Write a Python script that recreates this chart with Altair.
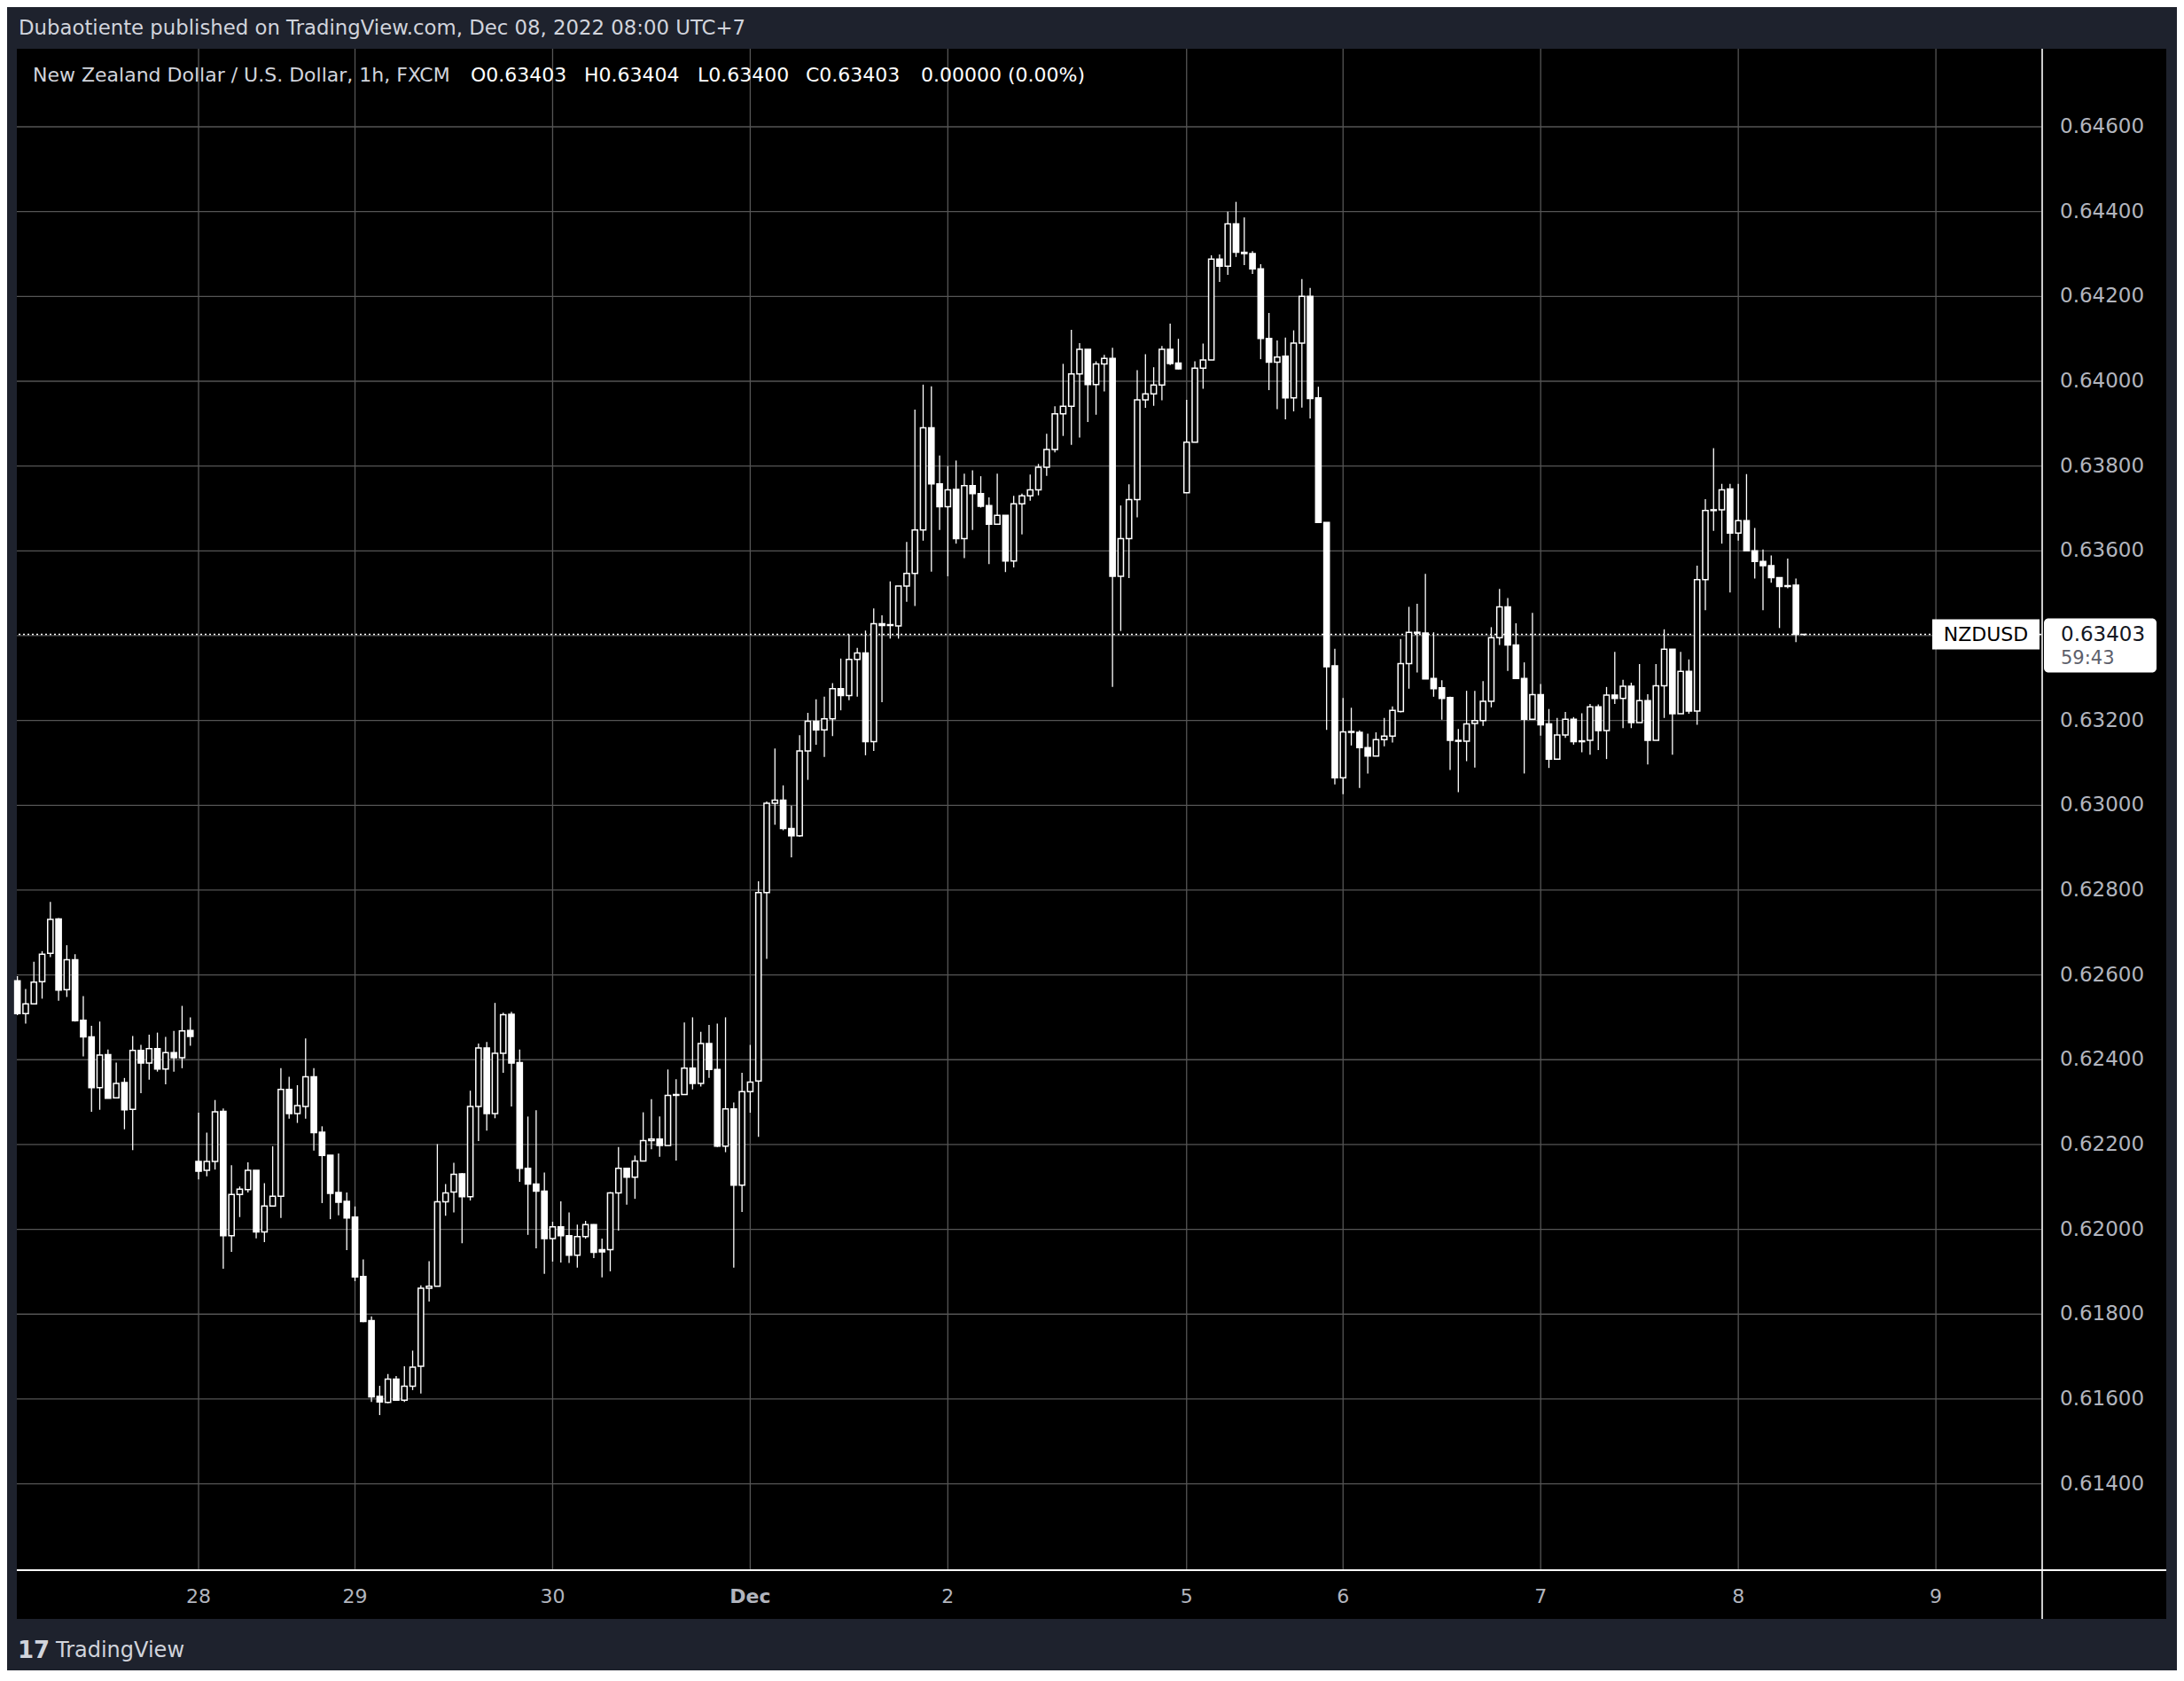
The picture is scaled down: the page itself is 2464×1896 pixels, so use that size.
import altair as alt
import pandas as pd

# ---- hourly NZDUSD candles (FXCM, 1h) ----
opens = [0.62586,0.62509,0.62532,0.62584,0.62651,0.62732,0.62565,0.62636,0.62493,0.62454,
         0.62334,0.62412,0.62310,0.62346,0.62283,0.62422,0.62392,0.62426,0.62378,0.62417,
         0.62405,0.62469,0.62160,0.62139,0.62160,0.62278,0.61985,0.62082,0.62094,0.62139,
         0.61994,0.62055,0.62078,0.62330,0.62273,0.62290,0.62360,0.62229,0.62175,0.62087,
         0.62066,0.62029,0.61889,0.61785,0.61606,0.61592,0.61647,0.61597,0.61630,0.61677,
         0.61861,0.61866,0.62065,0.62088,0.62131,0.62077,0.62290,0.62428,0.62273,0.62415,
         0.62507,0.62393,0.62144,0.62107,0.62090,0.61978,0.62006,0.61985,0.61939,0.61983,
         0.62011,0.61952,0.61952,0.62086,0.62144,0.62123,0.62161,0.62209,0.62213,0.62198,
         0.62316,0.62318,0.62380,0.62344,0.62438,0.62377,0.62196,0.62284,0.62104,0.62325,
         0.62350,0.62794,0.63005,0.63012,0.62945,0.62928,0.63128,0.63198,0.63178,0.63204,
         0.63275,0.63259,0.63344,0.63359,0.63150,0.63428,0.63424,0.63423,0.63517,0.63547,
         0.63649,0.63890,0.63758,0.63704,0.63745,0.63629,0.63754,0.63735,0.63707,0.63663,
         0.63684,0.63576,0.63711,0.63730,0.63744,0.63797,0.63839,0.63923,0.63941,0.64017,
         0.64075,0.63992,0.64041,0.64054,0.63540,0.63629,0.63721,0.63956,0.63970,0.63991,
         0.64075,0.64043,0.63737,0.63856,0.64031,0.64050,0.64288,0.64271,0.64371,0.64304,
         0.64301,0.64265,0.64101,0.64045,0.64059,0.63961,0.64090,0.64200,0.63961,0.63667,
         0.63329,0.63065,0.63174,0.63172,0.63136,0.63116,0.63155,0.63163,0.63221,0.63334,
         0.63408,0.63406,0.63299,0.63277,0.63254,0.63153,0.63151,0.63193,0.63200,0.63245,
         0.63395,0.63468,0.63378,0.63299,0.63203,0.63261,0.63192,0.63109,0.63166,0.63203,
         0.63150,0.63153,0.63232,0.63176,0.63260,0.63252,0.63281,0.63195,0.63247,0.63153,
         0.63282,0.63368,0.63216,0.63316,0.63222,0.63532,0.63695,0.63697,0.63746,0.63642,
         0.63671,0.63600,0.63575,0.63565,0.63537,0.63516,0.63519,0.63403]
highs = [0.62597,0.62567,0.62631,0.62656,0.62772,0.62734,0.62670,0.62649,0.62550,0.62480,
         0.62490,0.62424,0.62393,0.62357,0.62456,0.62435,0.62459,0.62464,0.62454,0.62468,
         0.62527,0.62500,0.62275,0.62228,0.62305,0.62285,0.62151,0.62101,0.62158,0.62139,
         0.62109,0.62196,0.62380,0.62360,0.62340,0.62450,0.62380,0.62243,0.62175,0.62179,
         0.62087,0.62054,0.61929,0.61795,0.61631,0.61659,0.61654,0.61677,0.61714,0.61868,
         0.61925,0.62201,0.62107,0.62157,0.62133,0.62327,0.62438,0.62442,0.62534,0.62511,
         0.62513,0.62424,0.62266,0.62281,0.62134,0.62018,0.62066,0.62040,0.62011,0.62020,
         0.62012,0.61978,0.62088,0.62194,0.62144,0.62174,0.62276,0.62307,0.62266,0.62377,
         0.62354,0.62488,0.62500,0.62466,0.62482,0.62485,0.62500,0.62299,0.62369,0.62435,
         0.62821,0.63009,0.63134,0.63047,0.62999,0.63165,0.63218,0.63250,0.63256,0.63288,
         0.63346,0.63403,0.63371,0.63412,0.63464,0.63448,0.63528,0.63517,0.63621,0.63933,
         0.63992,0.63988,0.63825,0.63800,0.63813,0.63782,0.63790,0.63776,0.63726,0.63782,
         0.63684,0.63730,0.63735,0.63780,0.63805,0.63876,0.63941,0.64041,0.64121,0.64090,
         0.64075,0.64047,0.64062,0.64079,0.63707,0.63757,0.64026,0.64064,0.64033,0.64083,
         0.64136,0.64100,0.63956,0.64047,0.64089,0.64297,0.64299,0.64400,0.64423,0.64386,
         0.64307,0.64276,0.64161,0.64096,0.64103,0.64120,0.64241,0.64220,0.63987,0.63667,
         0.63369,0.63253,0.63230,0.63177,0.63169,0.63172,0.63206,0.63233,0.63392,0.63468,
         0.63475,0.63546,0.63408,0.63295,0.63256,0.63180,0.63270,0.63270,0.63293,0.63420,
         0.63510,0.63489,0.63429,0.63337,0.63454,0.63286,0.63227,0.63206,0.63220,0.63208,
         0.63217,0.63239,0.63238,0.63279,0.63362,0.63296,0.63289,0.63333,0.63262,0.63333,
         0.63415,0.63368,0.63362,0.63344,0.63565,0.63722,0.63842,0.63758,0.63758,0.63758,
         0.63781,0.63654,0.63603,0.63589,0.63537,0.63582,0.63535,0.63404]
lows =  [0.62505,0.62485,0.62530,0.62544,0.62642,0.62539,0.62548,0.62490,0.62408,0.62277,
         0.62282,0.62309,0.62310,0.62236,0.62187,0.62321,0.62353,0.62372,0.62342,0.62372,
         0.62380,0.62433,0.62118,0.62125,0.62141,0.61907,0.61947,0.62029,0.62087,0.61979,
         0.61970,0.62055,0.62027,0.62261,0.62251,0.62261,0.62186,0.62062,0.62024,0.62033,
         0.61951,0.61878,0.61781,0.61593,0.61562,0.61590,0.61597,0.61593,0.61621,0.61613,
         0.61830,0.61866,0.62032,0.62040,0.61967,0.62068,0.62208,0.62233,0.62262,0.62369,
         0.62290,0.62112,0.61987,0.61955,0.61895,0.61924,0.61922,0.61921,0.61910,0.61978,
         0.61932,0.61887,0.61901,0.61997,0.62058,0.62072,0.62161,0.62189,0.62171,0.62198,
         0.62162,0.62318,0.62330,0.62337,0.62357,0.62194,0.62182,0.61910,0.62041,0.62275,
         0.62218,0.62638,0.62954,0.62941,0.62877,0.62926,0.63060,0.63143,0.63114,0.63163,
         0.63224,0.63248,0.63256,0.63118,0.63128,0.63243,0.63393,0.63393,0.63480,0.63470,
         0.63624,0.63551,0.63649,0.63540,0.63617,0.63583,0.63649,0.63702,0.63569,0.63662,
         0.63550,0.63561,0.63639,0.63718,0.63731,0.63777,0.63832,0.63871,0.63850,0.63867,
         0.63904,0.63921,0.63976,0.63279,0.63411,0.63536,0.63679,0.63937,0.63942,0.63955,
         0.64038,0.64028,0.63737,0.63856,0.63982,0.64050,0.64234,0.64251,0.64293,0.64274,
         0.64253,0.64052,0.63979,0.63934,0.63910,0.63929,0.63938,0.63912,0.63667,0.63178,
         0.63049,0.63026,0.63141,0.63041,0.63075,0.63116,0.63139,0.63148,0.63219,0.63275,
         0.63313,0.63298,0.63256,0.63202,0.63083,0.63031,0.63104,0.63089,0.63187,0.63231,
         0.63378,0.63317,0.63299,0.63075,0.63203,0.63164,0.63088,0.63109,0.63159,0.63143,
         0.63125,0.63119,0.63130,0.63109,0.63239,0.63182,0.63182,0.63195,0.63096,0.63153,
         0.63206,0.63119,0.63216,0.63216,0.63190,0.63460,0.63647,0.63617,0.63502,0.63624,
         0.63600,0.63535,0.63460,0.63525,0.63418,0.63512,0.63385,0.63400]
closes = [0.62509,0.62532,0.62583,0.62649,0.62731,0.62564,0.62636,0.62492,0.62454,0.62334,
          0.62411,0.62309,0.62344,0.62282,0.62422,0.62392,0.62426,0.62378,0.62417,0.62405,
          0.62468,0.62455,0.62137,0.62160,0.62277,0.61985,0.62082,0.62095,0.62139,0.61994,
          0.62055,0.62078,0.62330,0.62273,0.62292,0.62360,0.62228,0.62174,0.62085,0.62064,
          0.62027,0.61888,0.61783,0.61605,0.61593,0.61647,0.61597,0.61630,0.61675,0.61861,
          0.61866,0.62065,0.62086,0.62130,0.62077,0.62290,0.62428,0.62273,0.62415,0.62506,
          0.62392,0.62144,0.62107,0.62090,0.61978,0.62006,0.61985,0.61939,0.61983,0.62011,
          0.61946,0.61947,0.62086,0.62144,0.62123,0.62161,0.62209,0.62213,0.62198,0.62316,
          0.62318,0.62380,0.62344,0.62438,0.62377,0.62196,0.62284,0.62104,0.62325,0.62347,
          0.62794,0.63005,0.63012,0.62945,0.62928,0.63128,0.63198,0.63178,0.63204,0.63275,
          0.63259,0.63344,0.63359,0.63150,0.63428,0.63424,0.63426,0.63517,0.63547,0.63649,
          0.63890,0.63758,0.63704,0.63744,0.63629,0.63754,0.63735,0.63705,0.63663,0.63684,
          0.63576,0.63711,0.63730,0.63744,0.63797,0.63839,0.63923,0.63941,0.64017,0.64075,
          0.63992,0.64041,0.64054,0.63540,0.63629,0.63721,0.63956,0.63970,0.63991,0.64075,
          0.64042,0.64029,0.63856,0.64031,0.64050,0.64288,0.64271,0.64371,0.64304,0.64301,
          0.64265,0.64101,0.64045,0.64057,0.63961,0.64090,0.64200,0.63959,0.63667,0.63327,
          0.63065,0.63173,0.63172,0.63136,0.63116,0.63155,0.63163,0.63224,0.63334,0.63408,
          0.63406,0.63298,0.63275,0.63252,0.63153,0.63151,0.63192,0.63200,0.63245,0.63395,
          0.63468,0.63378,0.63299,0.63203,0.63261,0.63190,0.63109,0.63166,0.63203,0.63150,
          0.63152,0.63232,0.63176,0.63260,0.63252,0.63281,0.63195,0.63247,0.63153,0.63282,
          0.63368,0.63216,0.63316,0.63222,0.63532,0.63695,0.63697,0.63744,0.63642,0.63671,
          0.63600,0.63575,0.63565,0.63537,0.63516,0.63518,0.63403,0.63403]

# time axis: bar index where each day starts, and its label
day_ticks = [22, 41, 65, 89, 113, 142, 161, 185, 209, 233]
day_labels = ["28", "29", "30", "Dec", "2", "5", "6", "7", "8", "9"]
# price axis ticks and labels
price_ticks = [0.614, 0.616, 0.618, 0.620, 0.622, 0.624, 0.626, 0.628, 0.630,
               0.632, 0.634, 0.636, 0.638, 0.640, 0.642, 0.644, 0.646]
price_labels = ["0.61400", "0.61600", "0.61800", "0.62000", "0.62200", "0.62400",
                "0.62600", "0.62800", "0.63000", "0.63200", "0.63400", "0.63600",
                "0.63800", "0.64000", "0.64200", "0.64400", "0.64600"]

symbol = "NZDUSD"
title_text = "New Zealand Dollar / U.S. Dollar, 1h, FXCM"
ohlc_texts = ["O0.63403", "H0.63404", "L0.63400", "C0.63403", "0.00000 (0.00%)"]
last_price = 0.63403
last_price_text = "0.63403"
countdown = "59:43"
published = "Dubaotiente published on TradingView.com, Dec 08, 2022 08:00 UTC+7"

# ---- layout constants ----
FONT = "DejaVu Sans"
W, H = 2284, 1716
PANEL_R = 2425      # right edge of black panel (plot coords)
PANEL_B = 1771      # bottom edge of black panel
NAVY = "#1e222d"
GRID = "#555555"
TXT = "#d1d4dc"
AXT = "#b2b5be"
XDOM = [-0.07, 245.8]
YDOM = [0.611963, 0.647840]
PX = (YDOM[1] - YDOM[0]) / H

df = pd.DataFrame({"i": list(range(len(opens))), "open": opens, "high": highs,
                   "low": lows, "close": closes})
days = pd.DataFrame({"d": day_ticks, "lab": day_labels})
prices = pd.DataFrame({"p": price_ticks, "lab": price_labels})
one = pd.DataFrame({"a": [0]})

xs = alt.Scale(domain=XDOM, nice=False, zero=False)
ys = alt.Scale(domain=YDOM, nice=False, zero=False)


def band(x, x2, y, y2, color):
    return alt.Chart(one).mark_rect(color=color).encode(
        x=alt.value(x), x2=alt.value(x2), y=alt.value(y), y2=alt.value(y2))


def label(txt, x, y, size, color, weight="normal", align="left"):
    return alt.Chart(one).mark_text(text=txt, fontSize=size, color=color, font=FONT,
                                    fontWeight=weight, align=align, baseline="middle").encode(
        x=alt.value(x), y=alt.value(y))


frame = [band(-11, PANEL_R + 12, -47, 0, NAVY),
         band(-11, 0, -47, H + 120, NAVY),
         band(PANEL_R, PANEL_R + 12, -47, H + 120, NAVY),
         band(-11, PANEL_R + 12, PANEL_B, H + 120, NAVY)]

vgrid = alt.Chart(days).mark_rule(color=GRID, strokeWidth=1.3).encode(
    x=alt.X("d:Q", scale=xs, axis=None))
hgrid = alt.Chart(prices).mark_rule(color=GRID, strokeWidth=1.3).encode(
    y=alt.Y("p:Q", scale=ys, axis=None))
xlabels = alt.Chart(days).transform_filter("datum.lab != 'Dec'").mark_text(
    fontSize=22, font=FONT, color=AXT, baseline="middle", align="center").encode(
    x=alt.X("d:Q", scale=xs, axis=None), y=alt.value(H + 30), text="lab:N")
xlabels_bold = alt.Chart(days).transform_filter("datum.lab == 'Dec'").mark_text(
    fontSize=22, font=FONT, color=AXT, baseline="middle", align="center",
    fontWeight="bold").encode(
    x=alt.X("d:Q", scale=xs, axis=None), y=alt.value(H + 30), text="lab:N")
ylabels = alt.Chart(prices).mark_text(fontSize=23, font=FONT, color=AXT, baseline="middle",
                                      align="left").encode(
    x=alt.value(W + 21), y=alt.Y("p:Q", scale=ys, axis=None), text="lab:N")

price_line = alt.Chart(one).mark_rule(color="#ffffff", strokeWidth=1.5, strokeDash=[2, 3]).encode(
    y=alt.datum(last_price, scale=ys, axis=None))

wicks = alt.Chart(df).mark_rule(color="#ffffff", strokeWidth=1.3).encode(
    x=alt.X("i:Q", scale=xs, axis=None),
    y=alt.Y("low:Q", scale=ys, axis=None),
    y2="high:Q")

bodies = alt.Chart(df).transform_calculate(
    x0="datum.i - 0.33", x1="datum.i + 0.33"
).mark_rect(stroke="#ffffff", strokeWidth=1.5).encode(
    x=alt.X("x0:Q", scale=xs, axis=None),
    x2="x1:Q",
    y=alt.Y("open:Q", scale=ys, axis=None),
    y2="close:Q",
    fill=alt.condition("datum.close >= datum.open", alt.value("#000000"), alt.value("#ffffff")))

sym_box = alt.Chart(one).mark_rect(color="#ffffff").encode(
    x=alt.value(2161), x2=alt.value(2282),
    y=alt.datum(last_price + 17 * PX, scale=ys, axis=None), y2=alt.datum(last_price - 17 * PX))
sym_txt = alt.Chart(one).mark_text(text=symbol, fontSize=22, font=FONT, color="#000000",
                                   align="center", baseline="middle").encode(
    x=alt.value(2221.5), y=alt.datum(last_price, scale=ys, axis=None))
price_box = alt.Chart(one).mark_rect(color="#ffffff", cornerRadius=5).encode(
    x=alt.value(2287), x2=alt.value(2414),
    y=alt.datum(last_price + 18 * PX, scale=ys, axis=None), y2=alt.datum(last_price - 43 * PX))
price_txt = alt.Chart(one).mark_text(text=last_price_text, fontSize=23, font=FONT,
                                     color="#131722", align="left", baseline="middle").encode(
    x=alt.value(2306), y=alt.datum(last_price, scale=ys, axis=None))
count_txt = alt.Chart(one).mark_text(text=countdown, fontSize=21, font=FONT, color="#5d606b",
                                     align="left", baseline="middle", dy=27).encode(
    x=alt.value(2306), y=alt.datum(last_price, scale=ys, axis=None))

borders = [
    alt.Chart(one).mark_rule(color="#ffffff", strokeWidth=2).encode(
        x=alt.value(0), x2=alt.value(PANEL_R), y=alt.value(H)),
    alt.Chart(one).mark_rule(color="#ffffff", strokeWidth=1.6).encode(
        x=alt.value(W + 1), y=alt.value(0), y2=alt.value(PANEL_B)),
]

ohlc_x = [512, 640, 768, 890, 1020]
texts = [label(published, 2, -23, 22.8, TXT),
         label(title_text, 18, 30, 22, TXT)]
texts += [label(t, xx, 30, 22, "#ffffff") for t, xx in zip(ohlc_texts, ohlc_x)]
texts += [label("17", 1, 1807, 26, TXT, weight="bold"),
          label("TradingView", 44, 1807, 24, TXT)]

chart = alt.layer(
    *frame, vgrid, hgrid, xlabels, xlabels_bold, ylabels, price_line, wicks, bodies,
    sym_box, sym_txt, price_box, price_txt, count_txt, *borders, *texts
).properties(
    width=W, height=H,
    padding={"left": 11, "top": 47, "right": 153, "bottom": 113},
    autosize=alt.AutoSizeParams(type="none"),
    background="#000000",
).configure_view(stroke=None)

chart.save("out.html", embed_options={"renderer": "svg", "actions": False})
